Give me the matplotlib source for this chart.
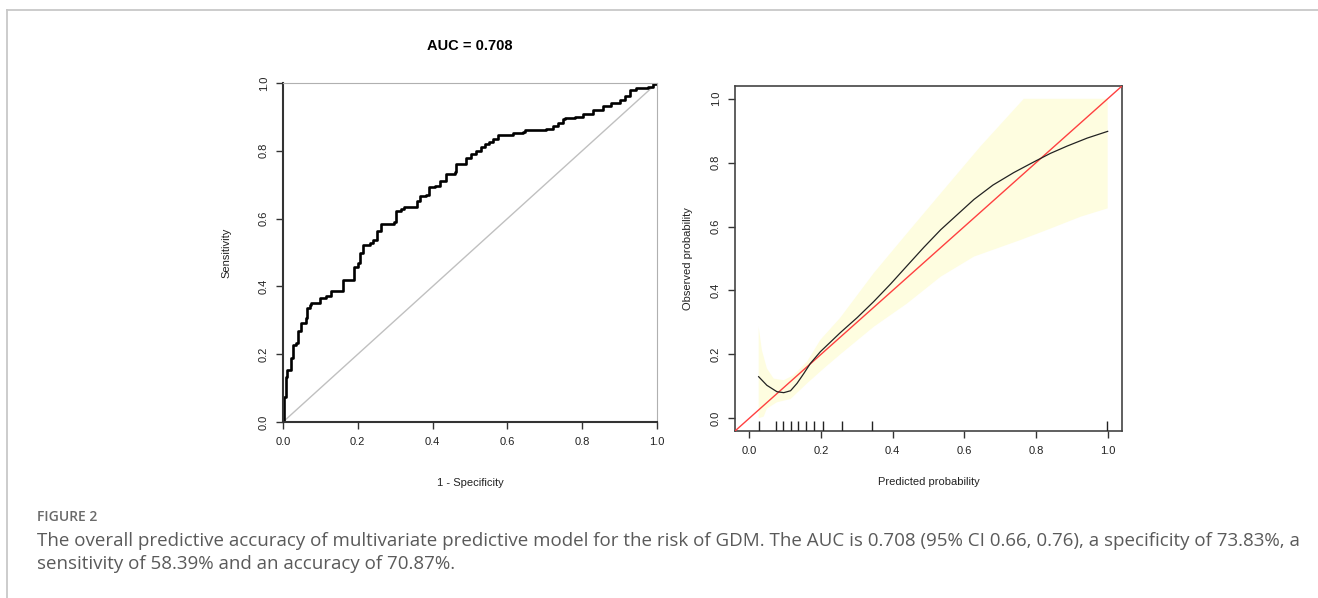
import numpy as np
import matplotlib
matplotlib.use("Agg")
import matplotlib.pyplot as plt
from matplotlib.lines import Line2D

# ROC curve vertices (1 - specificity, sensitivity)
roc_fpr = [0.0, 0.004, 0.007, 0.011, 0.020, 0.022, 0.027, 0.036, 0.040, 0.049,
           0.061, 0.064, 0.071, 0.076, 0.096, 0.100, 0.116, 0.129, 0.156, 0.160,
           0.183, 0.189, 0.201, 0.207, 0.214, 0.232, 0.241, 0.251, 0.261, 0.285,
           0.296, 0.303, 0.316, 0.323, 0.346, 0.357, 0.365, 0.383, 0.390, 0.406,
           0.419, 0.437, 0.459, 0.462, 0.481, 0.490, 0.504, 0.517, 0.530, 0.539,
           0.551, 0.561, 0.575, 0.610, 0.615, 0.642, 0.646, 0.704, 0.722, 0.735,
           0.749, 0.753, 0.780, 0.802, 0.829, 0.856, 0.878, 0.900, 0.914, 0.927,
           0.945, 0.976, 0.989, 1.0]
roc_tpr = [0.0, 0.074, 0.133, 0.153, 0.153, 0.188, 0.227, 0.232, 0.267, 0.291,
           0.306, 0.336, 0.346, 0.352, 0.352, 0.365, 0.372, 0.385, 0.385, 0.418,
           0.418, 0.457, 0.469, 0.499, 0.523, 0.528, 0.538, 0.563, 0.583, 0.585,
           0.589, 0.622, 0.627, 0.635, 0.635, 0.652, 0.666, 0.671, 0.694, 0.696,
           0.711, 0.733, 0.737, 0.760, 0.762, 0.780, 0.790, 0.800, 0.810, 0.819,
           0.826, 0.834, 0.846, 0.846, 0.852, 0.854, 0.862, 0.864, 0.872, 0.882,
           0.894, 0.898, 0.901, 0.908, 0.921, 0.931, 0.941, 0.951, 0.963, 0.978,
           0.986, 0.988, 0.997, 1.0]

# calibration curve
cal_x = [0.026, 0.049, 0.077, 0.096, 0.115, 0.133, 0.152, 0.170, 0.198, 0.254,
         0.301, 0.347, 0.394, 0.440, 0.487, 0.534, 0.580, 0.627, 0.680, 0.738,
         0.790, 0.840, 0.887, 0.943, 1.0]
cal_y = [0.130, 0.103, 0.083, 0.080, 0.086, 0.109, 0.140, 0.171, 0.208, 0.268,
         0.315, 0.365, 0.420, 0.477, 0.535, 0.590, 0.637, 0.685, 0.730, 0.769,
         0.800, 0.829, 0.852, 0.877, 0.898]

# confidence band
band_up_x = [0.026, 0.035, 0.049, 0.068, 0.096, 0.124, 0.161, 0.198, 0.254, 0.347,
             0.440, 0.534, 0.645, 0.766, 1.0]
band_up_y = [0.286, 0.213, 0.156, 0.124, 0.119, 0.135, 0.177, 0.245, 0.315, 0.454,
             0.579, 0.704, 0.851, 1.0, 1.0]
band_lo_x = [0.026, 0.040, 0.049, 0.077, 0.115, 0.161, 0.208, 0.254, 0.347, 0.440,
             0.534, 0.627, 0.757, 0.832, 0.925, 1.0]
band_lo_y = [0.0, 0.005, 0.030, 0.050, 0.060, 0.109, 0.156, 0.200, 0.286, 0.359,
             0.443, 0.506, 0.558, 0.590, 0.631, 0.657]

# rug positions of predicted probabilities
rug_x = [0.027, 0.075, 0.094, 0.115, 0.136, 0.158, 0.180, 0.205, 0.258, 0.341, 0.999]

ticks = [0.0, 0.2, 0.4, 0.6, 0.8, 1.0]
tick_labels = ["0.0", "0.2", "0.4", "0.6", "0.8", "1.0"]

plt.rcParams['font.family'] = ['Liberation Sans', 'DejaVu Sans']

fig = plt.figure(figsize=(13.18, 5.98), dpi=100)

# page frame lines
fig.add_artist(Line2D([7 / 1318, 7 / 1318], [0, 1 - 10 / 598], color="#c8c8c8", lw=1.3))
fig.add_artist(Line2D([7 / 1318, 1], [1 - 10 / 598, 1 - 10 / 598], color="#c8c8c8", lw=1.3))

txt_col = "#222222"

# ---- ROC plot
ax1 = fig.add_axes([283 / 1318, 1 - 422 / 598, 374 / 1318, 339 / 598])
ax1.plot([0, 1], [0, 1], color="#c0c0c0", lw=1)
ax1.plot(roc_fpr, roc_tpr, color="black", lw=1.9, drawstyle="steps-post")
ax1.set_xlim(0, 1)
ax1.set_ylim(0, 1)
for s in ["top", "right"]:
    ax1.spines[s].set_color("#b0b0b0")
for s in ["left", "bottom"]:
    ax1.spines[s].set_color("#333333")
    ax1.spines[s].set_linewidth(1.5)
ax1.set_xticks(ticks)
ax1.set_xticklabels(tick_labels)
ax1.set_yticks(ticks)
ax1.set_yticklabels(tick_labels, rotation=90, va="center")
ax1.tick_params(direction="out", length=5, width=1, colors="#333333", labelsize=8,
                labelcolor=txt_col)
ax1.tick_params(axis="x", pad=6)
ax1.tick_params(axis="y", pad=5)
ax1.set_title("AUC = 0.708", fontsize=10.5, fontweight="bold", pad=24)
ax1.set_xlabel("1 - Specificity", fontsize=8, labelpad=22, color=txt_col)
ax1.set_ylabel("Sensitivity", fontsize=8, labelpad=20, color=txt_col)

# ---- calibration plot
ax2 = fig.add_axes([735 / 1318, 1 - 431 / 598, 387 / 1318, 345 / 598])
ax2.fill(band_up_x + band_lo_x[::-1], band_up_y + band_lo_y[::-1],
         color="#fefde0", lw=0, zorder=1)
ax2.plot([-0.1, 1.1], [-0.1, 1.1], color="#ff4040", lw=1, zorder=3)
ax2.plot(cal_x, cal_y, color="#222222", lw=0.9, zorder=4)
ax2.vlines(rug_x, -0.04, -0.01, color="#222222", lw=1, zorder=4)
ax2.set_xlim(-0.04, 1.04)
ax2.set_ylim(-0.04, 1.04)
for s in ax2.spines.values():
    s.set_color("#444444")
    s.set_linewidth(1.2)
ax2.set_xticks(ticks)
ax2.set_xticklabels(tick_labels)
ax2.set_yticks(ticks)
ax2.set_yticklabels(tick_labels, rotation=90, va="center")
ax2.tick_params(direction="out", length=5, width=1, colors="#333333", labelsize=8,
                labelcolor=txt_col)
ax2.tick_params(axis="x", pad=6)
ax2.tick_params(axis="y", pad=5)
ax2.set_xlabel("Predicted probability", fontsize=8, labelpad=15, color=txt_col)
ax2.set_ylabel("Observed probability", fontsize=8, labelpad=13, color=txt_col)

# ---- caption
fig.text(37 / 1318, 1 - 517 / 598, "FIGURE 2", fontsize=10, color="#6a6a6a",
         family=["Open Sans", "DejaVu Sans"], fontweight="semibold", va="center")
cap1 = ("The overall predictive accuracy of multivariate predictive model for the risk of GDM. "
        "The AUC is 0.708 (95% CI 0.66, 0.76), a specificity of 73.83%, a")
cap2 = "sensitivity of 58.39% and an accuracy of 70.87%."
fig.text(37 / 1318, 1 - 541 / 598, cap1, fontsize=13.5, color="#5a5a5a",
         family=["Open Sans", "DejaVu Sans"], va="center")
fig.text(37 / 1318, 1 - 564 / 598, cap2, fontsize=13.5, color="#5a5a5a",
         family=["Open Sans", "DejaVu Sans"], va="center")

fig.savefig("out.png", dpi=100, facecolor="white")
